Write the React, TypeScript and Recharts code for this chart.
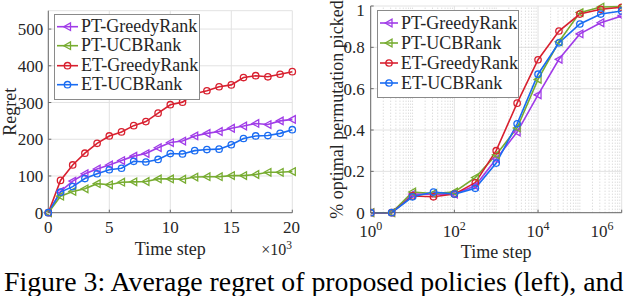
import { CartesianGrid, Line, LineChart, ReferenceLine, XAxis, YAxis } from 'recharts'

const FONT = "'Liberation Serif', 'Times New Roman', serif"
const INK = '#262626'
const FRAME = '#6b6b6b'
const GRID = '#e2e2e2'

const seriesKeys = ['ptGreedy', 'ptUcb', 'etGreedy', 'etUcb']
const seriesNames = ['PT-GreedyRank', 'PT-UCBRank', 'ET-GreedyRank', 'ET-UCBRank']
const seriesColors = ['#a03ce8', '#77ac30', '#d8202f', '#1a6cf2']
const seriesMarkers = ['triangle', 'triangle', 'circle', 'circle']

// left panel: regret, time step in thousands
const regretSteps = [0, 1, 2, 3, 4, 5, 6, 7, 8, 9, 10, 11, 12, 13, 14, 15, 16, 17, 18, 19, 20]
const regretPtGreedy = [0, 58, 86, 106, 119, 130, 142, 154, 161, 177, 191, 195, 209, 216, 221, 230, 236, 243, 240, 250, 254]
const regretPtUcb = [0, 45, 58, 65, 79, 76, 83, 84, 85, 92, 92, 91, 97, 98, 98, 101, 101, 104, 110, 110, 112]
const regretEtGreedy = [0, 88, 130, 162, 189, 209, 220, 237, 248, 271, 294, 301, 324, 332, 343, 348, 368, 373, 370, 377, 384]
const regretEtUcb = [0, 56, 71, 93, 106, 117, 121, 140, 138, 145, 161, 160, 169, 172, 173, 185, 202, 209, 210, 216, 226]
const regretTicks = [0, 100, 200, 300, 400, 500]
const regretStepTicks = [0, 5, 10, 15, 20]

// right panel: share of runs picking the optimal permutation
const pickSteps = [1, 3.162, 10, 31.62, 100, 316.2, 1000, 3162, 10000, 31623, 100000, 316228, 1000000]
const pickPtGreedy = [0, 0, 0.09, 0.09, 0.09, 0.13, 0.26, 0.39, 0.57, 0.742, 0.865, 0.919, 0.952]
const pickPtUcb = [0, 0, 0.1, 0.093, 0.1, 0.17, 0.28, 0.41, 0.645, 0.827, 0.968, 0.995, 0.997]
const pickEtGreedy = [0, 0, 0.081, 0.077, 0.09, 0.145, 0.3, 0.53, 0.74, 0.879, 0.961, 0.984, 0.994]
const pickEtUcb = [0, 0, 0.077, 0.1, 0.09, 0.118, 0.24, 0.43, 0.67, 0.822, 0.913, 0.961, 0.976]
const pickTicks = [0, 0.2, 0.4, 0.6, 0.8, 1]
const pickStepTicks = [1, 100, 10000, 1000000]

const regretData = regretSteps.map((t, i) => ({
  t,
  ptGreedy: regretPtGreedy[i],
  ptUcb: regretPtUcb[i],
  etGreedy: regretEtGreedy[i],
  etUcb: regretEtUcb[i],
}))

const pickData = pickSteps.map((t, i) => ({
  t,
  ptGreedy: pickPtGreedy[i],
  ptUcb: pickPtUcb[i],
  etGreedy: pickEtGreedy[i],
  etUcb: pickEtUcb[i],
}))

// minor log gridlines (everything between the labelled decades)
const minorLogLines: number[] = []
for (let d = 0; d < 6; d++) {
  for (let k = 1; k < 10; k++) {
    const v = k * Math.pow(10, d)
    if (!pickStepTicks.includes(v)) minorLogLines.push(v)
  }
}
const allLogTicks = [...minorLogLines, ...pickStepTicks].sort((a, b) => a - b)

function Marker({ kind, color, cx, cy }: { kind: string; color: string; cx: number; cy: number }) {
  if (kind === 'circle') {
    return <circle cx={cx} cy={cy} r={3.2} fill="none" stroke={color} strokeWidth={1.3} />
  }
  return (
    <polygon
      points={`${cx - 3.8},${cy} ${cx + 3},${cy - 3.8} ${cx + 3},${cy + 3.8}`}
      fill="none"
      stroke={color}
      strokeWidth={1.3}
    />
  )
}

function dotFor(i: number) {
  return (props: any) => {
    const { cx, cy, index } = props
    if (cx == null || cy == null) return <g key={`d-${i}-${index}`} />
    return (
      <g key={`d-${i}-${index}`}>
        <Marker kind={seriesMarkers[i]} color={seriesColors[i]} cx={cx} cy={cy} />
      </g>
    )
  }
}

function PowerTick({ x, y, payload }: any) {
  const exp = Math.round(Math.log10(payload.value))
  return (
    <text x={x} y={y + 13} textAnchor="middle" fontFamily={FONT} fontSize={17} fill={INK}>
      <tspan>10</tspan>
      <tspan dy={-7} fontSize={12}>
        {exp}
      </tspan>
    </text>
  )
}

function ChartLegend({ left, top, width, rowHeight, sample }: { left: number; top: number; width: number; rowHeight: number; sample: number }) {
  return (
    <div
      style={{
        position: 'absolute',
        left,
        top,
        width,
        boxSizing: 'border-box',
        border: '1px solid #8a8a8a',
        background: '#fff',
        padding: '2px 0 4px 0',
      }}
    >
      {seriesNames.map((name, i) => (
        <div key={name} style={{ display: 'flex', alignItems: 'center', height: rowHeight }}>
          <svg width={sample + 4} height={rowHeight} style={{ display: 'block', marginLeft: 1 }}>
            <line x1={1} x2={sample + 1} y1={rowHeight / 2} y2={rowHeight / 2} stroke={seriesColors[i]} strokeWidth={1.6} />
            <Marker kind={seriesMarkers[i]} color={seriesColors[i]} cx={sample / 2 + 1} cy={rowHeight / 2} />
          </svg>
          <span style={{ fontFamily: FONT, fontSize: 18, color: INK, lineHeight: `${rowHeight}px`, whiteSpace: 'nowrap' }}>{name}</span>
        </div>
      ))}
    </div>
  )
}

const tickStyle = { fontFamily: FONT, fontSize: 17, fill: INK }

function RegretChart() {
  return (
    <LineChart width={300} height={270} data={regretData} margin={{ top: 10.7, right: 7.7, bottom: 0, left: 0 }}>
      <CartesianGrid stroke={GRID} strokeWidth={1} />
      <XAxis
        dataKey="t"
        type="number"
        domain={[0, 20]}
        ticks={regretStepTicks}
        height={57.3}
        tick={tickStyle}
        tickSize={-3}
        tickMargin={11.5}
        stroke={FRAME}
      />
      <XAxis xAxisId="top" orientation="top" type="number" dataKey="t" domain={[0, 20]} ticks={regretStepTicks} height={0} tick={false} tickSize={-3} stroke={FRAME} />
      <YAxis
        type="number"
        domain={[0, 550]}
        ticks={regretTicks}
        width={48.3}
        tick={tickStyle}
        tickSize={-3}
        tickMargin={8}
        stroke={FRAME}
      />
      <YAxis yAxisId="right" orientation="right" type="number" domain={[0, 550]} ticks={regretTicks} width={0} tick={false} tickSize={-3} stroke={FRAME} />
      {seriesKeys.map((key, i) => (
        <Line
          key={key}
          dataKey={key}
          name={seriesNames[i]}
          stroke={seriesColors[i]}
          strokeWidth={1.6}
          dot={dotFor(i)}
          isAnimationActive={false}
        />
      ))}
    </LineChart>
  )
}

function PickChart() {
  return (
    <LineChart width={330} height={270} data={pickData} margin={{ top: 6, right: 8.3, bottom: 0, left: 0 }}>
      <CartesianGrid stroke={GRID} strokeWidth={1} />
      {minorLogLines.map((v) => (
        <ReferenceLine key={v} x={v} stroke="#cfcfcf" strokeWidth={1} strokeDasharray="1 2" />
      ))}
      <XAxis
        dataKey="t"
        type="number"
        scale="log"
        domain={[1, 1000000]}
        allowDataOverflow
        ticks={pickStepTicks}
        height={57.3}
        tick={<PowerTick />}
        tickSize={-3}
        tickMargin={14}
        stroke={FRAME}
      />
      <XAxis
        xAxisId="top"
        orientation="top"
        type="number"
        dataKey="t"
        scale="log"
        domain={[1, 1000000]}
        allowDataOverflow
        ticks={allLogTicks}
        height={0}
        tick={false}
        tickSize={-2}
        stroke={FRAME}
      />
      <YAxis
        type="number"
        domain={[0, 1]}
        ticks={pickTicks}
        width={70.7}
        tick={tickStyle}
        tickFormatter={(v) => String(v)}
        tickSize={-3}
        tickMargin={9}
        stroke={FRAME}
      />
      <YAxis yAxisId="right" orientation="right" type="number" domain={[0, 1]} ticks={pickTicks} width={0} tick={false} tickSize={-3} stroke={FRAME} />
      {seriesKeys.map((key, i) => (
        <Line
          key={key}
          dataKey={key}
          name={seriesNames[i]}
          stroke={seriesColors[i]}
          strokeWidth={1.6}
          dot={dotFor(i)}
          isAnimationActive={false}
        />
      ))}
    </LineChart>
  )
}

export default function App() {
  return (
    <div style={{ position: 'absolute', left: 0, top: 0, width: 630, height: 296, background: '#fff', overflow: 'hidden' }}>
      <div style={{ position: 'absolute', left: 0, top: 0 }}>
        <RegretChart />
      </div>
      <div style={{ position: 'absolute', left: 300, top: 0 }}>
        <PickChart />
      </div>
      <ChartLegend left={54} top={14} width={146} rowHeight={19.4} sample={21} />
      <ChartLegend left={377} top={10} width={142} rowHeight={20} sample={18} />
      <svg width={630} height={296} style={{ position: 'absolute', left: 0, top: 0, pointerEvents: 'none' }}>
        <g fontFamily={FONT} fill={INK}>
          <text x={16} y={111.7} fontSize={18} textAnchor="middle" transform="rotate(-90 16 111.7)">
            Regret
          </text>
          <text x={170.3} y={255} fontSize={18} textAnchor="middle">
            Time step
          </text>
          <text x={292} y={255} fontSize={16} textAnchor="end">
            ×10<tspan dy={-6.5} fontSize={11.5}>3</tspan>
          </text>
          <text x={343} y={109.4} fontSize={18} textAnchor="middle" transform="rotate(-90 343 109.4)">
            % optimal permutation picked
          </text>
          <text x={496.2} y={258} fontSize={18} textAnchor="middle">
            Time step
          </text>
          <text x={4} y={291} fontSize={27.8} fill="#000">
            Figure 3: Average regret of proposed policies (left), and
          </text>
        </g>
      </svg>
    </div>
  )
}
